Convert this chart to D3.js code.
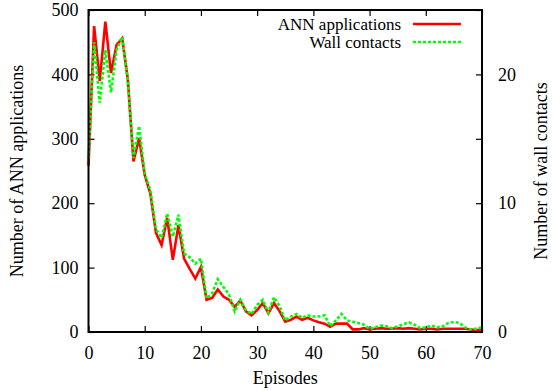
<!DOCTYPE html>
<html>
<head>
<meta charset="utf-8">
<script src="https://cdn.jsdelivr.net/npm/d3@7"></script>
<style>
html,body{margin:0;padding:0;background:#fff;}
svg{display:block;}
svg text{font-family:"Liberation Serif","Times New Roman",Times,serif !important;}
</style>
</head>
<body>
<svg id="chart" width="553" height="391"></svg>
<script>
// Data (episode index = array position)
const episodes = [0,1,2,3,4,5,6,7,8,9,10,11,12,13,14,15,16,17,18,19,20,21,22,23,24,25,26,27,28,29,30,31,32,33,34,35,36,37,38,39,40,41,42,43,44,45,46,47,48,49,50,51,52,53,54,55,56,57,58,59,60,61,62,63,64,65,66,67,68,69,70];
const annApplications = [258,475,390,482,402,446,456,392,265,301,244,215,154,135,177,112,166,114,98,83,101,50,53,66,55,50,39,49,32,26,34,45,29,45,32,16,19,24,19,22,18,15,13,8,13,13,13,4,4,6,4,5,6,5,5,6,5,6,5,4,5,5,4,5,5,5,5,5,4,3,4];
const wallContacts = [13.5,22.5,17.8,21.9,18.6,21.9,22.9,19.5,13.5,16,12.3,11,8,7.3,9.2,7.4,9.1,6.1,5.8,5.3,5.7,2.6,3.0,4.1,3.5,2.9,1.6,2.5,1.7,1.4,2.1,2.5,1.5,2.7,2.0,0.9,1.2,1.4,1.1,1.3,1.2,1.2,1.3,0.45,0.9,1.4,0.9,0.8,0.7,0.57,0.26,0.36,0.5,0.44,0.3,0.44,0.6,0.75,0.57,0.3,0.36,0.5,0.36,0.44,0.7,0.78,0.7,0.36,0.2,0.26,0.36];
const xTicks = [0,10,20,30,40,50,60,70];
const yTicks = [0,100,200,300,400,500];
const y2Ticks = [0,10,20];
const seriesNames = ["ANN applications","Wall contacts"];
const xLabel = "Episodes";
const yLabel = "Number of ANN applications";
const y2Label = "Number of wall contacts";

const FONT = "Liberation Serif";
const FS = "18px";
const svg = d3.select("#chart");
const L = 88.5, R = 482, T = 10, B = 332;

const x = d3.scaleLinear().domain([0,70]).range([L,R]);
const y = d3.scaleLinear().domain([0,500]).range([B,T]);
const y2 = d3.scaleLinear().domain([0,25]).range([B,T]);

function styleText(sel, size){
  const s = size || FS;
  return sel.attr("font-family",FONT).style("font-family",FONT).attr("font-size",s).style("font-size",s).attr("fill","#000");
}

const tickLen = 6;
const gx = svg.append("g").attr("transform",`translate(0,${B})`)
  .call(d3.axisBottom(x).tickValues(xTicks).tickSize(-tickLen).tickPadding(14).tickFormat(d3.format("d")));
const gxt = svg.append("g").attr("transform",`translate(0,${T})`)
  .call(d3.axisTop(x).tickValues(xTicks).tickSize(-tickLen).tickFormat(""));
const gy = svg.append("g").attr("transform",`translate(${L},0)`)
  .call(d3.axisLeft(y).tickValues(yTicks).tickSize(-tickLen).tickPadding(10).tickFormat(d3.format("d")));
const gyr = svg.append("g").attr("transform",`translate(${R},0)`)
  .call(d3.axisRight(y).tickValues(yTicks).tickSize(-tickLen).tickFormat(""));
const gy2 = svg.append("g").attr("transform",`translate(${R},0)`)
  .call(d3.axisRight(y2).tickValues(y2Ticks).tickSize(0).tickPadding(16).tickFormat(d3.format("d")));

[gx,gxt,gy,gyr,gy2].forEach(g=>{
  g.attr("font-family",FONT).style("font-family",FONT);
  g.select(".domain").remove();
  g.selectAll(".tick line").attr("stroke","#000").attr("stroke-width",1.2);
  styleText(g.selectAll("text"));
});

const lineAnn = d3.line().x((d,i)=>x(episodes[i])).y(d=>y(d));
const lineWall = d3.line().x((d,i)=>x(episodes[i])).y(d=>y2(d));

svg.append("path").datum(annApplications).attr("d",lineAnn)
  .attr("fill","none").attr("stroke","#ff0000").attr("stroke-width",2.6);
svg.append("path").datum(wallContacts).attr("d",lineWall)
  .attr("fill","none").attr("stroke","#00ff00").attr("stroke-width",2.6).attr("stroke-dasharray","3,2");

svg.append("rect").attr("x",L).attr("y",T).attr("width",R-L).attr("height",B-T)
  .attr("fill","none").attr("stroke","#000").attr("stroke-width",2);

const legY = [24,42];
const legColors = ["#ff0000","#00ff00"];
const legDash = [null,"3,2"];
seriesNames.forEach((name,i)=>{
  styleText(svg.append("text").attr("x",401).attr("y",legY[i]).attr("dy","0.33em")
    .attr("text-anchor","end"), "17px").text(name);
  svg.append("line").attr("x1",413).attr("x2",461).attr("y1",legY[i]).attr("y2",legY[i])
    .attr("stroke",legColors[i]).attr("stroke-width",2.6)
    .attr("stroke-dasharray",legDash[i]);
});

styleText(svg.append("text").attr("x",(L+R)/2).attr("y",378).attr("dy","0.35em")
  .attr("text-anchor","middle")).text(xLabel);
styleText(svg.append("text").attr("transform",`translate(17,${(T+B)/2}) rotate(-90)`).attr("dy","0.35em")
  .attr("text-anchor","middle")).text(yLabel);
styleText(svg.append("text").attr("transform",`translate(541,${(T+B)/2}) rotate(-90)`).attr("dy","0.35em")
  .attr("text-anchor","middle")).text(y2Label);
</script>
</body>
</html>
